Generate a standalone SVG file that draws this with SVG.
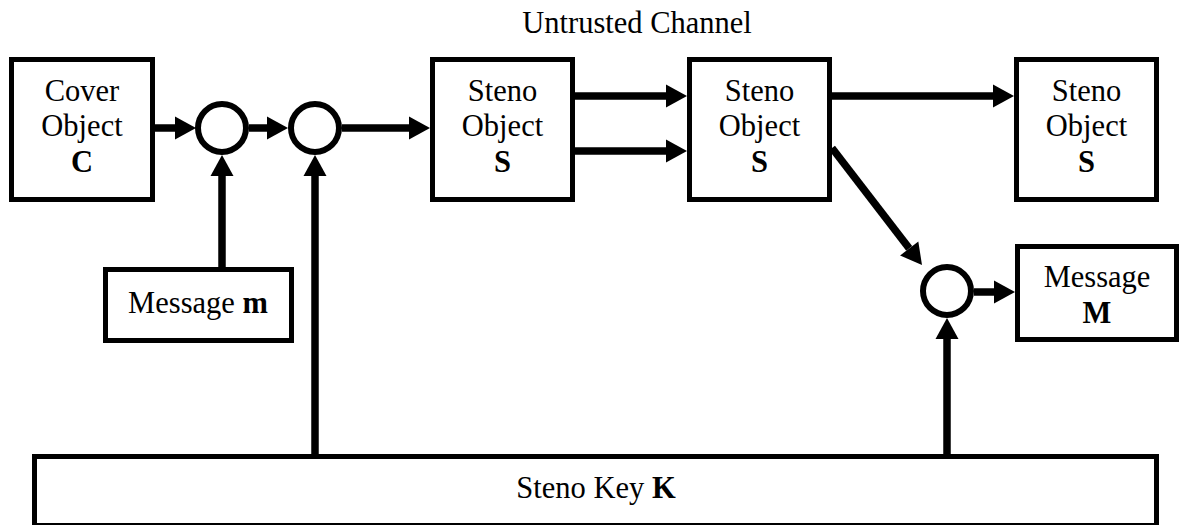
<svg xmlns="http://www.w3.org/2000/svg" width="1180" height="525" viewBox="0 0 1180 525">
  <style>
    .box { fill: #fff; stroke: #000; stroke-width: 5; }
    .junction { fill: #fff; stroke: #000; stroke-width: 6; }
    .wire { fill: none; stroke: #000; stroke-width: 7.5; marker-end: url(#head); }
    text { font-family: "Liberation Serif", "Times New Roman", serif; font-size: 30.5px; fill: #000; text-anchor: middle; }
    .b { font-weight: bold; }
  </style>
  <defs>
    <!-- arrowhead drawn from its base, so the wire ends where the head begins -->
    <marker id="head" markerUnits="userSpaceOnUse" markerWidth="22" markerHeight="23" refX="0" refY="11.5" orient="auto" overflow="visible">
      <path d="M0,0 L21,11.5 L0,23 Z" fill="#000"/>
    </marker>
  </defs>

  <text id="channel-label" x="637" y="33">Untrusted Channel</text>

  <g id="connectors">
    <path class="wire" d="M155,128 H175"/>
    <path class="wire" d="M249,128 H267"/>
    <path class="wire" d="M342,128 H409"/>
    <path class="wire" d="M575,96 H666"/>
    <path class="wire" d="M575,151 H666"/>
    <path class="wire" d="M832,96 H993"/>
    <path class="wire" d="M832,148 L909.2,248.4"/>
    <path class="wire" d="M974,292 H994"/>
    <path class="wire" d="M222,267 V176"/>
    <path class="wire" d="M315,454 V176"/>
    <path class="wire" d="M947,454 V339"/>
  </g>

  <g id="cover-object">
    <rect class="box" x="11.5" y="59.5" width="141" height="140"/>
    <text x="82" y="101">Cover</text>
    <text x="82" y="136">Object</text>
    <text x="82" y="172" class="b">C</text>
  </g>

  <g id="embed-junction">
    <circle class="junction" cx="222" cy="128" r="24"/>
  </g>

  <g id="key-junction">
    <circle class="junction" cx="315" cy="128" r="24"/>
  </g>

  <g id="message-in">
    <rect class="box" x="105.5" y="269.5" width="186" height="71"/>
    <text x="198" y="313">Message <tspan class="b">m</tspan></text>
  </g>

  <g id="steno-object-1">
    <rect class="box" x="432.5" y="59.5" width="140" height="140"/>
    <text x="502.5" y="101">Steno</text>
    <text x="502.5" y="136">Object</text>
    <text x="502.5" y="172" class="b">S</text>
  </g>

  <g id="steno-object-2">
    <rect class="box" x="689.5" y="59.5" width="140" height="140"/>
    <text x="759.5" y="101">Steno</text>
    <text x="759.5" y="136">Object</text>
    <text x="759.5" y="172" class="b">S</text>
  </g>

  <g id="steno-object-3">
    <rect class="box" x="1016.5" y="59.5" width="140" height="140"/>
    <text x="1086.5" y="101">Steno</text>
    <text x="1086.5" y="136">Object</text>
    <text x="1086.5" y="172" class="b">S</text>
  </g>

  <g id="extract-junction">
    <circle class="junction" cx="947" cy="291" r="24"/>
  </g>

  <g id="message-out">
    <rect class="box" x="1017.5" y="246.5" width="159" height="93"/>
    <text x="1097" y="287">Message</text>
    <text x="1097" y="323" class="b">M</text>
  </g>

  <g id="steno-key">
    <rect class="box" x="34.5" y="456.5" width="1122" height="69"/>
    <text x="596" y="498">Steno Key <tspan class="b">K</tspan></text>
  </g>
</svg>
